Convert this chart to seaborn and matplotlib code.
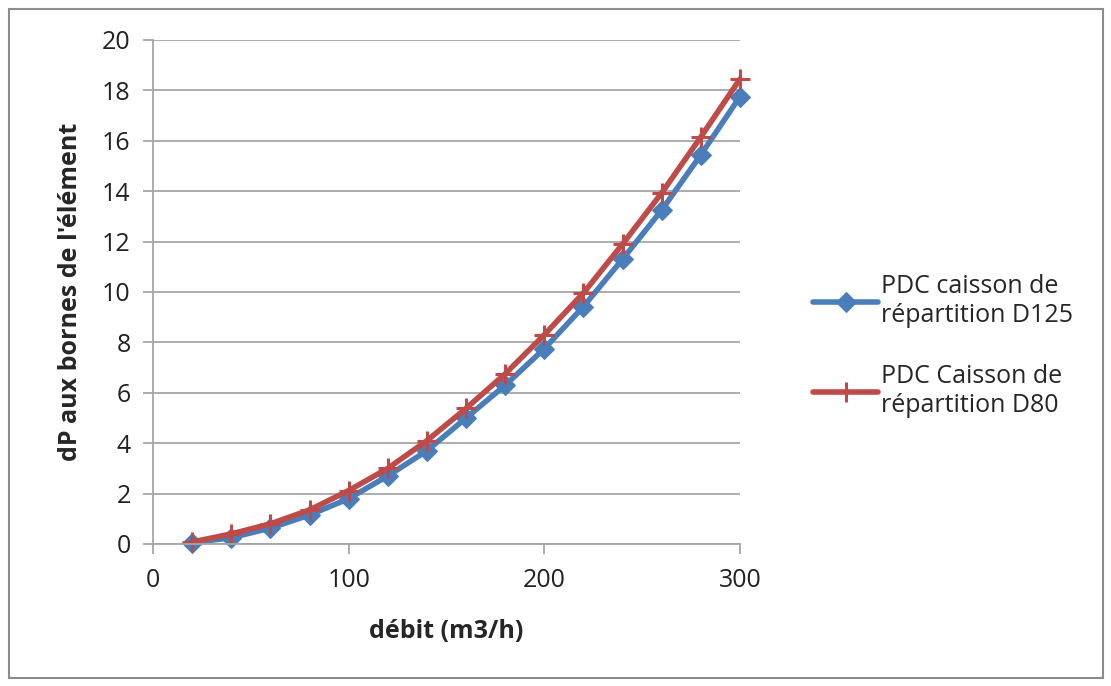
import matplotlib
matplotlib.use("Agg")
import matplotlib.pyplot as plt
import seaborn as sns
from matplotlib.patches import Rectangle

# flow rate (m3/h)
debit = [20, 40, 60, 80, 100, 120, 140, 160, 180, 200, 220, 240, 260, 280, 300]
# pressure drop, caisson D125
dp_d125 = [0.05, 0.25, 0.63, 1.15, 1.8, 2.7, 3.7, 5.0, 6.3, 7.75, 9.42, 11.3, 13.25, 15.44, 17.75]
# pressure drop, caisson D80
dp_d80 = [0.08, 0.4, 0.8, 1.35, 2.12, 3.0, 4.1, 5.38, 6.75, 8.3, 9.96, 11.9, 13.93, 16.15, 18.45]

series_names = ["PDC caisson de\nrépartition D125", "PDC Caisson de\nrépartition D80"]
x_ticks = [0, 100, 200, 300]
y_ticks = list(range(0, 21, 2))

sns.set_theme(style="white")
plt.rcParams["font.family"] = ["Open Sans", "DejaVu Sans"]

fig = plt.figure(figsize=(11.11, 6.86), dpi=100)
ax = fig.add_axes([0.1377, 0.207, 0.5283, 0.7347])

# D125: blue line with diamonds
sns.lineplot(x=debit, y=dp_d125, color="#4a7ebb", marker="D", markersize=10.5,
             markeredgecolor="#4a7ebb", linewidth=4, label=series_names[0],
             clip_on=False, ax=ax)
# D80: red line with plus signs
sns.lineplot(x=debit, y=dp_d80, color="#be4b48", marker="+", markersize=15,
             markeredgewidth=2.2, markeredgecolor="#be4b48", linewidth=4,
             label=series_names[1], clip_on=False, ax=ax)

ax.set_xlim(0, 300)
ax.set_ylim(0, 20)
ax.set_xticks(x_ticks)
ax.set_yticks(y_ticks)
ax.grid(axis="y", color="#a6a6a6", linewidth=1.3)
ax.grid(axis="x", visible=False)
ax.set_axisbelow(True)

for side in ["top", "right"]:
    ax.spines[side].set_visible(False)
for side in ["left", "bottom"]:
    ax.spines[side].set_color("#a6a6a6")
    ax.spines[side].set_linewidth(1.3)

ax.tick_params(axis="both", which="major", direction="out", length=7,
               width=1.3, color="#a6a6a6", labelsize=18, labelcolor="#222222",
               left=True, bottom=True)
ax.tick_params(axis="y", pad=9)
ax.tick_params(axis="x", pad=10)

ax.set_xlabel("débit (m3/h)", fontsize=18, fontweight="bold", labelpad=19)
ax.set_ylabel("dP aux bornes de l'élément", fontsize=18, fontweight="bold", labelpad=14)

handles, labels = ax.get_legend_handles_labels()
ax.legend(handles, labels, loc="center left", bbox_to_anchor=(1.125, 0.393),
          frameon=False, fontsize=18, handlelength=2.6, labelspacing=1.45,
          handletextpad=0.1, borderaxespad=0, borderpad=0)

# outer chart border
fig.patches.append(Rectangle((0.008, 0.012), 0.985, 0.975, transform=fig.transFigure,
                             fill=False, edgecolor="#8c8c8c", linewidth=1.5))

fig.savefig("out.png", dpi=100)
